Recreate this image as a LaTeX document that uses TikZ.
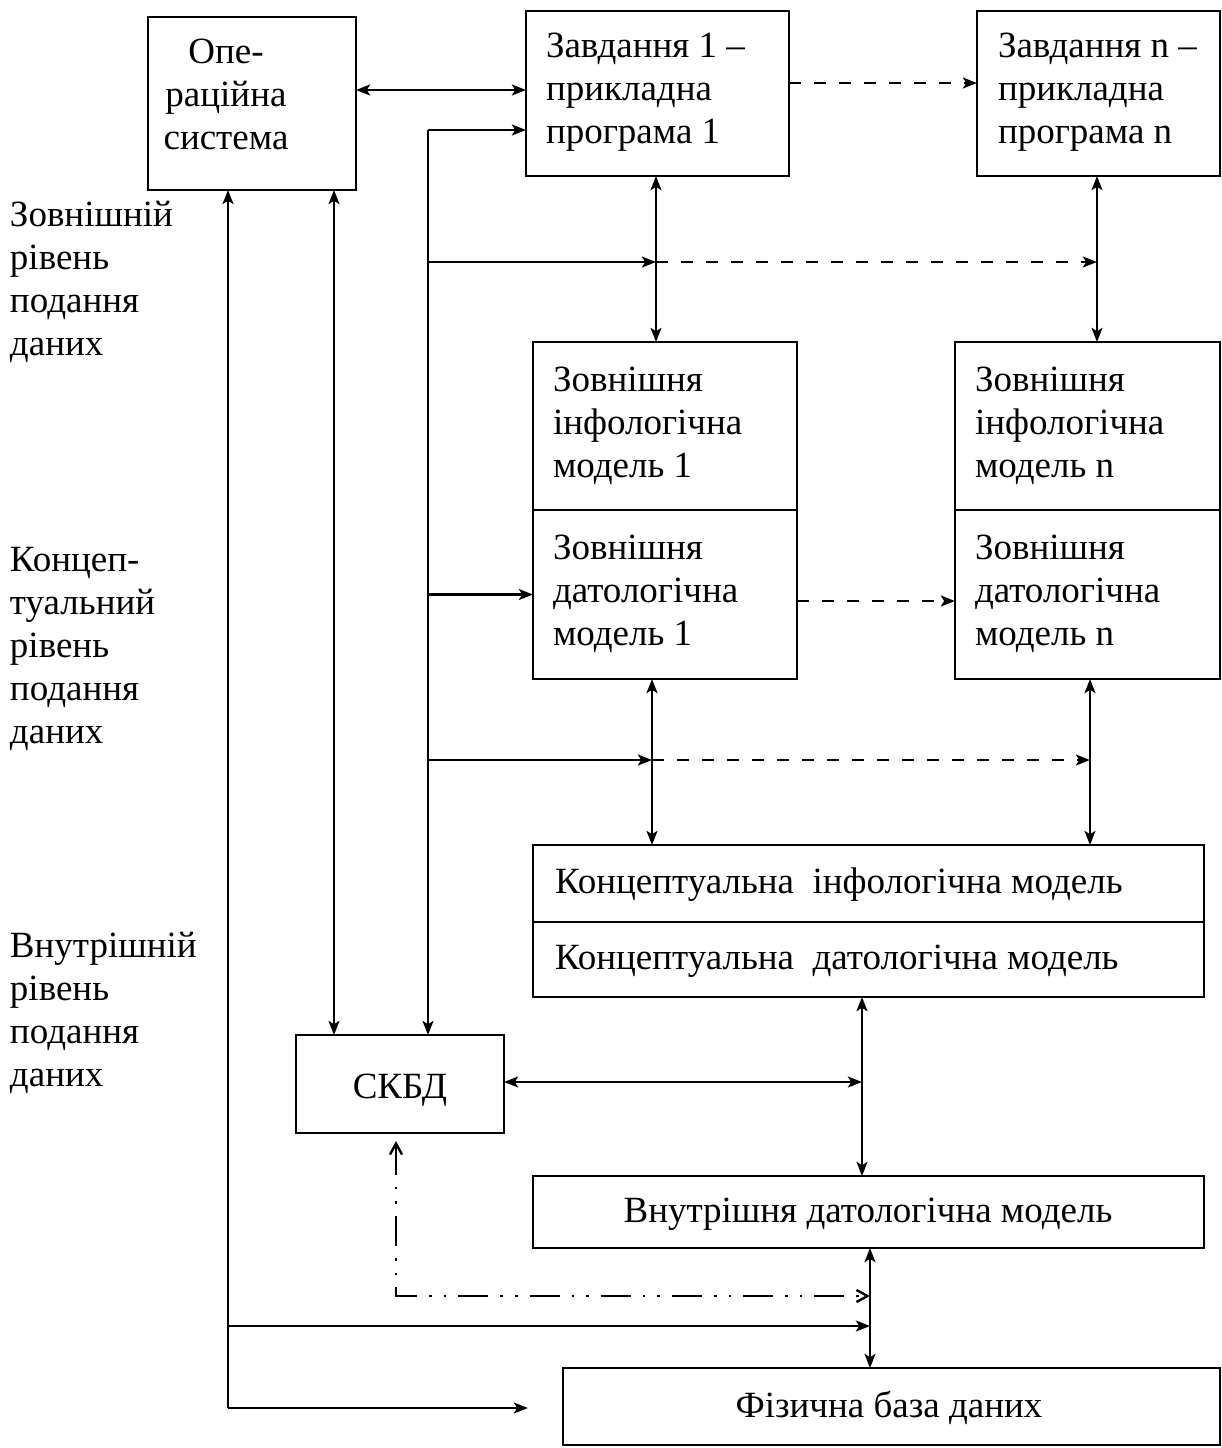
\documentclass[tikz,border=0pt]{standalone}
\usepackage{fontspec}
\setmainfont{Liberation Serif}
\usetikzlibrary{arrows.meta,fit}

\begin{document}
\begin{tikzpicture}[x=0.5pt,y=-0.5pt,line width=1.4pt,
  every node/.style={inner sep=0pt,outer sep=0pt},
  txt/.style={font=\fontsize{18.5}{21.5}\selectfont,align=left,anchor=base west},
  ctxt/.style={font=\fontsize{18.5}{21.5}\selectfont,align=center,anchor=base},
  box/.style={draw,line width=1.4pt},
  ar/.style={-{Stealth[length=7pt,width=5.4pt,inset=1.6pt]}},
  dar/.style={{Stealth[length=7pt,width=5.4pt,inset=1.6pt]}-{Stealth[length=7pt,width=5.4pt,inset=1.6pt]}},
  dsh/.style={dash pattern=on 6pt off 6.5pt},
  ddot/.style={line width=1.2pt,dash pattern=on 15pt off 6pt on 1.3pt off 6pt on 1.3pt off 6pt,
    {Straight Barb[length=5.5pt,width=6pt]}-{Straight Barb[length=5.5pt,width=6pt]}}]

\useasboundingbox (0,0) rectangle (1222,1448);

% boxes
\node[box,fit={(148,17) (356,190)}] (os) {};
\node[box,fit={(526,11) (789,176)}] (t1) {};
\node[box,fit={(977,11) (1220,176)}] (tn) {};
\node[box,fit={(533,342) (797,510)}] (ei1) {};
\node[box,fit={(533,510) (797,679)}] (ed1) {};
\node[box,fit={(955,342) (1220,510)}] (ein) {};
\node[box,fit={(955,510) (1220,679)}] (edn) {};
\node[box,fit={(533,845) (1204,922)}] (ci) {};
\node[box,fit={(533,922) (1204,997)}] (cd) {};
\node[box,fit={(296,1035) (504,1133)}] (skbd) {};
\node[box,fit={(533,1176) (1204,1248)}] (vd) {};
\node[box,fit={(563,1368) (1220,1445)}] (phys) {};

% box texts (anchored at the baseline of the last line)
\node[ctxt] (osT) at (226,149) {Опе-\\рацiйна\\система};
\node[txt] (t1T) at (546,143) {Завдання 1 –\\прикладна\\програма 1};
\node[txt] (tnT) at (998,143) {Завдання n –\\прикладна\\програма n};
\node[txt] (ei1T) at (553,477) {Зовнішня\\інфологічна\\модель 1};
\node[txt] (ed1T) at (553,645) {Зовнішня\\датологічна\\модель 1};
\node[txt] (einT) at (975,477) {Зовнішня\\інфологічна\\модель n};
\node[txt] (ednT) at (975,645) {Зовнішня\\датологічна\\модель n};
\node[txt] (ciT) at (555,893) {Концептуальна\ \ інфологічна модель};
\node[txt] (cdT) at (555,969) {Концептуальна\ \ датологічна модель};
\node[ctxt] (skbdT) at (400,1098) {СКБД};
\node[ctxt] (vdT) at (868,1222) {Внутрішня датологічна модель};
\node[ctxt] (physT) at (889,1417) {Фізична база даних};

% level captions
\node[txt] (lev1) at (10,355) {Зовнішній\\рівень\\подання\\даних};
\node[txt] (lev2) at (10,743) {Концеп-\\туальний\\рівень\\подання\\даних};
\node[txt] (lev3) at (10,1086) {Внутрішній\\рівень\\подання\\даних};

% bus corners
\coordinate (busA) at (428,130);
\coordinate (busB) at (228,1408);
\coordinate (physIn) at (528,1408);
\coordinate (ddc) at (396,1296);

% operating system and applications
\draw[dar] (os.east |- 0,90) -- (t1.west |- 0,90);
\draw[ar,dsh] (t1.east |- 0,83) -- (tn.west |- 0,83);
\draw[ar] (busA) -- (t1.west |- busA);
\draw[ar] (busA) -- (skbd.north -| busA);
\draw[dar] (os.south -| 334,0) -- (skbd.north -| 334,0);
\draw[ar] (busB) -- (os.south -| busB);
\draw[ar] (busB) -- (physIn);

% external level
\draw[dar] (t1.south -| 656,0) -- (ei1.north -| 656,0);
\draw[dar] (tn.south -| 1097,0) -- (ein.north -| 1097,0);
\draw[ar] (busA |- 0,262) -- (656,262);
\draw[ar,dsh] (656,262) -- (1097,262);
\draw[ar] (busA |- ed1.west) -- (ed1.west);
\draw[ar,dsh] (ed1.east |- 0,601) -- (edn.west |- 0,601);

% conceptual level
\draw[dar] (ed1.south -| 652,0) -- (ci.north -| 652,0);
\draw[dar] (edn.south -| 1090,0) -- (ci.north -| 1090,0);
\draw[ar] (busA |- 0,760) -- (652,760);
\draw[ar,dsh] (652,760) -- (1090,760);

% internal level
\draw[dar] (cd.south -| 862,0) -- (vd.north -| 862,0);
\draw[dar] (skbd.east |- 0,1082) -- (862,1082);
\draw[dar] (vd.south -| 870,0) -- (phys.north -| 870,0);
\draw[ddot] (skbd.south -| ddc) ++(0,8) |- (870,1296);
\draw[ar] (busB |- 0,1326) -- (870,1326);

\end{tikzpicture}
\end{document}
